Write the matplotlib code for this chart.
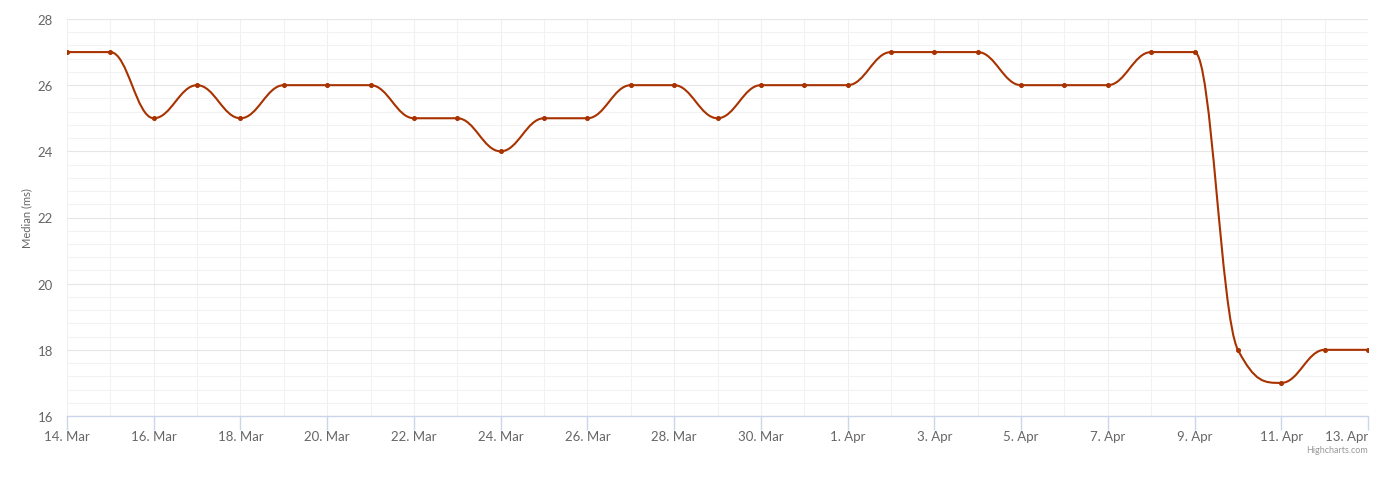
import datetime as dt
import numpy as np
import matplotlib
matplotlib.use('Agg')
import matplotlib.pyplot as plt
import matplotlib.dates as mdates
from matplotlib.path import Path
from matplotlib.patches import PathPatch
from matplotlib.ticker import MultipleLocator

# daily median response time, 14 Mar - 13 Apr
start = dt.date(2023, 3, 14)
dates = [start + dt.timedelta(days=i) for i in range(31)]
median_ms = [27, 27, 25, 26, 25, 26, 26, 26, 25, 25, 24, 25, 25, 26, 26, 25,
             26, 26, 26, 27, 27, 27, 26, 26, 26, 27, 27, 18, 17, 18, 18]

line_color = '#a83200'
text_color = '#666666'


def spline_path(xs, ys, smoothing=1.5):
    # highcharts style spline: bezier segments with corrected control points
    denom = smoothing + 1
    n = len(xs)
    right = [None] * n
    left = [None] * n
    for i in range(1, n - 1):
        x, y = xs[i], ys[i]
        lx, ly = xs[i - 1], ys[i - 1]
        nx, ny = xs[i + 1], ys[i + 1]
        lcx = (smoothing * x + lx) / denom
        lcy = (smoothing * y + ly) / denom
        rcx = (smoothing * x + nx) / denom
        rcy = (smoothing * y + ny) / denom
        corr = 0
        if rcx != lcx:
            corr = (rcy - lcy) * (rcx - x) / (rcx - lcx) + y - rcy
        lcy += corr
        rcy += corr
        if lcy > ly and lcy > y:
            lcy = max(ly, y)
            rcy = 2 * y - lcy
        elif lcy < ly and lcy < y:
            lcy = min(ly, y)
            rcy = 2 * y - lcy
        if rcy > ny and rcy > y:
            rcy = max(ny, y)
            lcy = 2 * y - rcy
        elif rcy < ny and rcy < y:
            rcy = min(ny, y)
            lcy = 2 * y - rcy
        left[i] = (lcx, lcy)
        right[i] = (rcx, rcy)
    verts = [(xs[0], ys[0])]
    codes = [Path.MOVETO]
    for i in range(1, n):
        c1 = right[i - 1] if right[i - 1] else (xs[i - 1], ys[i - 1])
        c2 = left[i] if left[i] else (xs[i], ys[i])
        verts += [c1, c2, (xs[i], ys[i])]
        codes += [Path.CURVE4] * 3
    return Path(verts, codes)


plt.rcParams['font.family'] = ['Lato', 'DejaVu Sans']

fig = plt.figure(figsize=(13.84, 4.81), dpi=100)
ax = fig.add_axes([67 / 1384, 1 - 417 / 481, (1368 - 67) / 1384, (417 - 20) / 481])

xnum = mdates.date2num(dates)
ax.add_patch(PathPatch(spline_path(list(xnum), median_ms), fill=False,
                       edgecolor=line_color, linewidth=1.5, zorder=3))
ax.plot(xnum, median_ms, 'o', color=line_color, markersize=2.6, zorder=4)

ax.set_xlim(xnum[0], xnum[-1])
ax.set_ylim(16, 28)

ax.xaxis.set_major_locator(mdates.DayLocator(interval=2))
ax.xaxis.set_minor_locator(mdates.DayLocator())
ax.xaxis.set_major_formatter(
    matplotlib.ticker.FuncFormatter(lambda v, p: mdates.num2date(v).strftime('%-d. %b')))
ax.yaxis.set_major_locator(MultipleLocator(2))
ax.yaxis.set_minor_locator(MultipleLocator(0.4))

ax.grid(which='major', axis='y', color='#e6e6e6', linewidth=0.8)
ax.grid(which='major', axis='x', color='#f0f0f0', linewidth=0.8)
ax.grid(which='minor', color='#f2f2f2', linewidth=0.8)
ax.set_axisbelow(True)

for side in ['top', 'right', 'left']:
    ax.spines[side].set_visible(False)
ax.spines['bottom'].set_color('#ccd6eb')
ax.spines['bottom'].set_linewidth(1)

ax.tick_params(axis='x', which='major', length=10, color='#ccd6eb', width=1,
               labelsize=9.5, labelcolor=text_color, pad=0)
ax.tick_params(axis='x', which='minor', length=0)
ax.tick_params(axis='y', which='both', length=0, labelsize=9.5,
               labelcolor=text_color, pad=10)

ax.set_ylabel('Median (ms)', color=text_color, fontsize=8, labelpad=4)

fig.canvas.draw()
# last label kept inside the chart, like highcharts does
labels = ax.get_xticklabels()
labels[-1].set_horizontalalignment('right')

fig.text(1368 / 1384, 1 - 451 / 481, 'Highcharts.com', ha='right', va='center',
         fontsize=6.5, color='#999999')

fig.savefig('out.png', dpi=100)
